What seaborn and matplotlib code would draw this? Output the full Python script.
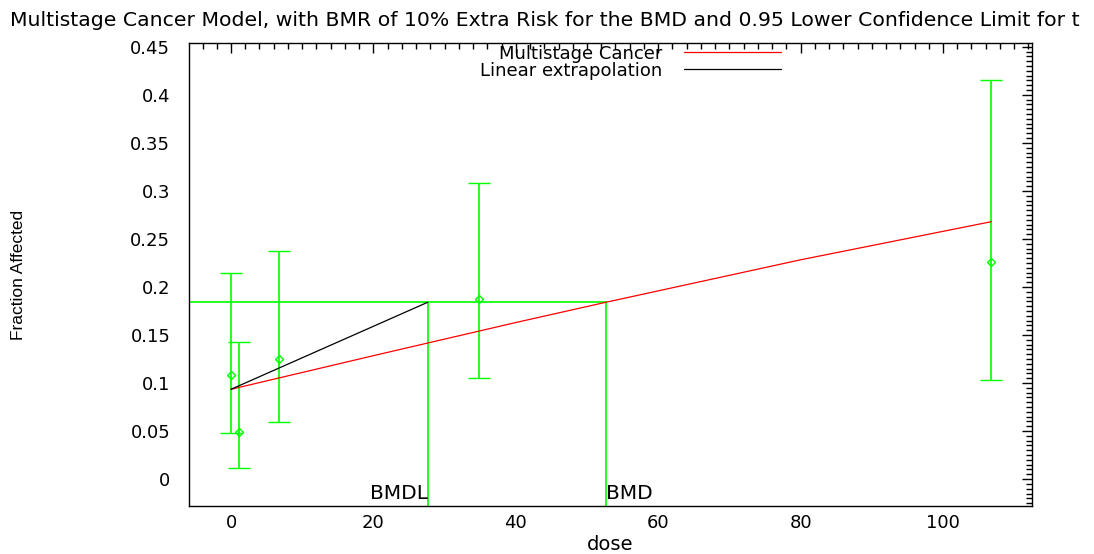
import matplotlib
matplotlib.use("Agg")
import matplotlib.pyplot as plt
from matplotlib.ticker import MultipleLocator
import seaborn as sns
import pandas as pd

# observed data (dose, fraction affected, lower / upper confidence limits)
dose = [0.0, 1.1, 6.7, 34.8, 106.8]
frac = [0.108, 0.049, 0.125, 0.187, 0.226]
lower = [0.048, 0.012, 0.059, 0.105, 0.103]
upper = [0.215, 0.143, 0.237, 0.308, 0.415]

# fitted multistage model
model_dose = [0.0, 20.0, 40.0, 52.6, 80.0, 106.8]
model_resp = [0.0935, 0.1285, 0.1630, 0.1840, 0.2283, 0.2680]

bmr_level = 0.184
bmd = 52.6
bmdl = 27.6
bg_resp = 0.0935

sns.set_style("white")
plt.rcParams["font.family"] = ["DejaVu Sans"]
plt.rcParams["text.color"] = "black"
plt.rcParams["xtick.color"] = "black"
plt.rcParams["ytick.color"] = "black"
plt.rcParams["axes.labelcolor"] = "black"

df = pd.DataFrame({"dose": dose, "frac": frac, "lower": lower, "upper": upper})
model_df = pd.DataFrame({"dose": model_dose, "resp": model_resp})

fig = plt.figure(figsize=(10.94, 5.54), dpi=100)
ax = fig.add_axes([189 / 1094, 1 - 506 / 554, (1032 - 189) / 1094, (506 - 43) / 554])

green = "#00ff00"
xmin, xmax = -5.9, 112.5

# BMR level and BMD / BMDL lines
ax.plot([xmin, bmd], [bmr_level, bmr_level], color=green, lw=1.2)
ax.plot([bmdl, bmdl], [-0.03, bmr_level], color=green, lw=1.2)
ax.plot([bmd, bmd], [-0.03, bmr_level], color=green, lw=1.2)

# data with confidence bars
ax.errorbar(df["dose"], df["frac"],
            yerr=[df["frac"] - df["lower"], df["upper"] - df["frac"]],
            fmt="D", color=green, mfc="none", ms=4.5, mew=1, lw=1.2,
            capsize=8, capthick=1.2)

sns.lineplot(data=model_df, x="dose", y="resp", color="red", lw=0.9,
             ax=ax, label="Multistage Cancer")
sns.lineplot(x=[0.0, bmdl], y=[bg_resp, bmr_level], color="black", lw=0.9,
             ax=ax, label="Linear extrapolation")

ax.text(bmdl, -0.021, "BMDL", ha="right", va="baseline", fontsize=14.5)
ax.text(bmd, -0.021, "BMD", ha="left", va="baseline", fontsize=14.5)

ax.set_xlim(xmin, xmax)
ax.set_ylim(-0.028, 0.454)
ax.xaxis.set_major_locator(MultipleLocator(20))
ax.xaxis.set_minor_locator(MultipleLocator(2))
ax.yaxis.set_minor_locator(MultipleLocator(0.005))
ax.set_yticks([0, 0.05, 0.1, 0.15, 0.2, 0.25, 0.3, 0.35, 0.4, 0.45])
ax.set_yticklabels(["0", "0.05", "0.1", "0.15", "0.2", "0.25", "0.3", "0.35", "0.4", "0.45"])
ax.tick_params(which="both", direction="in", top=True, right=True, labelsize=13)
ax.tick_params(which="major", length=7, width=1)
ax.tick_params(which="minor", length=4, width=1)
ax.tick_params(axis="y", pad=13.5)
ax.tick_params(axis="x", pad=6)
for s in ax.spines.values():
    s.set_color("black")
    s.set_linewidth(1)

ax.set_xlabel("dose", fontsize=14, labelpad=2)
ax.set_ylabel("Fraction Affected", fontsize=12.5, family="Liberation Sans")
ax.yaxis.set_label_coords(-0.193, 0.5)
# title is shown cut short, as in the original output
fig.text(10 / 1094, 1 - 20 / 554, "Multistage Cancer Model, with BMR of 10% Extra Risk for the BMD "
         "and 0.95 Lower Confidence Limit for t", ha="left", va="center", fontsize=14.7)

ax.legend(loc="upper center", bbox_to_anchor=(0.524, 1.012), frameon=False, markerfirst=False,
          handlelength=5.4, handletextpad=1.2, fontsize=13, labelspacing=-0.05, borderaxespad=0)

fig.savefig("out.png", dpi=100)
